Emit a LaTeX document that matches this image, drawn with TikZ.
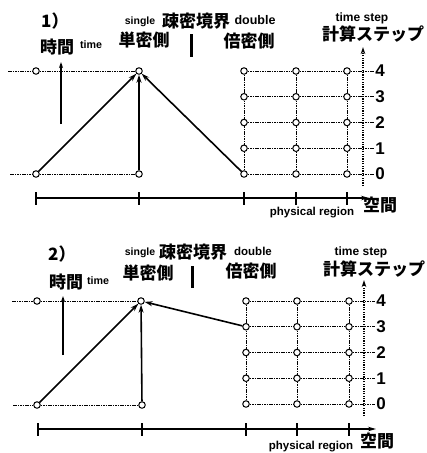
\documentclass[tikz,border=0pt]{standalone}
\usepackage{fontspec}
\setmainfont{Liberation Sans}
\newfontfamily\jp{Noto Sans CJK JP}
\usetikzlibrary{arrows.meta}
\tikzset{
  pt/.style={circle,draw,fill=white,line width=1pt,inner sep=0pt,minimum size=6.5pt},
  gridline/.style={line width=0.9pt,dash pattern=on 1.6pt off 0.8pt},
  flow/.style={line width=1.6pt,-{Stealth[length=8pt,width=5pt]}},
  timearrow/.style={line width=1.1pt,-{Stealth[length=6pt,width=4pt]}},
  steparrow/.style={line width=1.2pt,dash pattern=on 1.2pt off 1.2pt,-{Stealth[open,length=7pt,width=4.5pt]}},
  axisline/.style={line width=1.1pt,-{Stealth[length=8pt,width=4.5pt]}},
  tick/.style={line width=1.1pt},
  bmark/.style={line width=3pt,dash pattern=on 1.5pt off 0.5pt},
  jpt/.style={font=\jp\bfseries\fontsize{17}{17}\selectfont,inner sep=0pt},
  lat/.style={font=\bfseries\fontsize{11.5}{11.5}\selectfont,inner sep=0pt},
  digit/.style={font=\bfseries\fontsize{17}{17}\selectfont,inner sep=1pt,anchor=center},
}
\begin{document}
\begin{tikzpicture}[x=1pt,y=-1pt]
\useasboundingbox[fill=white] (0,0) rectangle (427,453);

% ================= Panel 1 =================
\node[pt] (pA4) at (36,71) {};
\node[pt] (pA0) at (36,174) {};
\node[pt] (pS4) at (139,71) {};
\node[pt] (pS0) at (139,174) {};
\coordinate (pA4w) at (8,71);
\coordinate (pA0w) at (10,174);
\draw[gridline] (pA4w) -- (pA4) -- (pS4);
\draw[gridline] (pA0w) -- (pA0) -- (pS0);
\foreach \c/\x in {1/244,2/296,3/347}
  \foreach \r in {0,...,4}
    \node[pt] (pG\c\r) at (\x,{174-25.75*\r}) {};
\foreach \r in {0,...,4}
  \node[digit] (pL\r) at (380,{174-25.75*\r}) {\r};
\foreach \r in {0,...,4}
  \draw[gridline] (pG1\r) -- (pG2\r) -- (pG3\r) -- (pL\r);
\foreach \c in {1,2,3}
  \foreach \r/\s in {0/1,1/2,2/3,3/4}
    \draw[gridline] (pG\c\r) -- (pG\c\s);
\coordinate (pTb) at (363,186);
\coordinate (pTt) at (363,47);
\draw[steparrow] (pTb) -- (pTt);
\coordinate (pX0) at (36,198);
\coordinate (pX1) at (369,198);
\draw[axisline] (pX0) -- (pX1);
\foreach \x in {36,139,244,296,347}
  \draw[tick] (\x,192) -- (\x,205);
\coordinate (pTa) at (61,124);
\coordinate (pTz) at (61,62);
\draw[timearrow] (pTa) -- (pTz);
\draw[flow] (pA0) -- (pS4);
\draw[flow] (pS0) -- (pS4);
\draw[flow] (pG10) -- (pS4);
\coordinate (pB0) at (191,34);
\coordinate (pB1) at (191,57);
\draw[bmark] (pB0) -- (pB1);
\node[jpt,anchor=west] (p1) at (41,21) {1）};
\node[lat,font=\bfseries\fontsize{10.5}{10.5}\selectfont] (psingle) at (140,22) {single};
\node[jpt] (pbound) at (196,21) {疎密境界};
\node[lat,font=\bfseries\fontsize{12.5}{12.5}\selectfont] (pdouble) at (255,20) {double};
\node[jpt] (ptan) at (144,40) {単密側};
\node[jpt] (pbai) at (249,41) {倍密側};
\node[jpt] (pjikan) at (57,47) {時間};
\node[lat,font=\bfseries\fontsize{10.7}{10.7}\selectfont] (ptime) at (91,45) {time};
\node[lat,font=\bfseries\fontsize{12}{12}\selectfont] (pstep) at (362,18) {time step};
\node[jpt] (pkeisan) at (373,34) {計算ステップ};
\node[lat] (pphys) at (312,213) {physical region};
\node[jpt] (pkukan) at (380,205) {空間};

% ================= Panel 2 =================
\node[pt] (qA4) at (37,301) {};
\node[pt] (qA0) at (37,405) {};
\node[pt] (qS4) at (141,301) {};
\node[pt] (qS0) at (142,405) {};
\coordinate (qA4w) at (12,301);
\coordinate (qA0w) at (13,405);
\draw[gridline] (qA4w) -- (qA4) -- (qS4);
\draw[gridline] (qA0w) -- (qA0) -- (qS0);
\foreach \c/\x in {1/246,2/297,3/349}
  \foreach \r in {0,...,4}
    \node[pt] (qG\c\r) at (\x,{404-25.75*\r}) {};
\foreach \r in {0,...,4}
  \node[digit] (qL\r) at (381,{404-25.75*\r}) {\r};
\foreach \r in {0,...,4}
  \draw[gridline] (qG1\r) -- (qG2\r) -- (qG3\r) -- (qL\r);
\foreach \c in {1,2,3}
  \foreach \r/\s in {0/1,1/2,2/3,3/4}
    \draw[gridline] (qG\c\r) -- (qG\c\s);
\coordinate (qTb) at (364,416);
\coordinate (qTt) at (364,280);
\draw[steparrow] (qTb) -- (qTt);
\coordinate (qX0) at (38,429);
\coordinate (qX1) at (376,429);
\draw[axisline] (qX0) -- (qX1);
\foreach \x in {38,142,246,297,349}
  \draw[tick] (\x,423) -- (\x,436);
\coordinate (qTa) at (63,355);
\coordinate (qTz) at (63,296);
\draw[timearrow] (qTa) -- (qTz);
\draw[flow] (qA0) -- (qS4);
\draw[flow] (qS0) -- (qS4);
\draw[flow] (qG13) -- (qS4);
\coordinate (qB0) at (192,266);
\coordinate (qB1) at (192,288);
\draw[bmark] (qB0) -- (qB1);
\node[jpt,anchor=west] (q2) at (48,254) {2）};
\node[lat,font=\bfseries\fontsize{10.5}{10.5}\selectfont] (qsingle) at (140,253) {single};
\node[jpt] (qbound) at (193,252) {疎密境界};
\node[lat,font=\bfseries\fontsize{11.5}{11.5}\selectfont] (qdouble) at (253,251) {double};
\node[jpt] (qtan) at (148,273) {単密側};
\node[jpt] (qbai) at (251,271) {倍密側};
\node[jpt] (qjikan) at (66,282) {時間};
\node[lat,font=\bfseries\fontsize{10.7}{10.7}\selectfont] (qtime) at (98,281) {time};
\node[lat,font=\bfseries\fontsize{12}{12}\selectfont] (qstep) at (361,252) {time step};
\node[jpt] (qkeisan) at (374,269) {計算ステップ};
\node[lat] (qphys) at (311,447) {physical region};
\node[jpt] (qkukan) at (377,441) {空間};
\end{tikzpicture}
\end{document}
